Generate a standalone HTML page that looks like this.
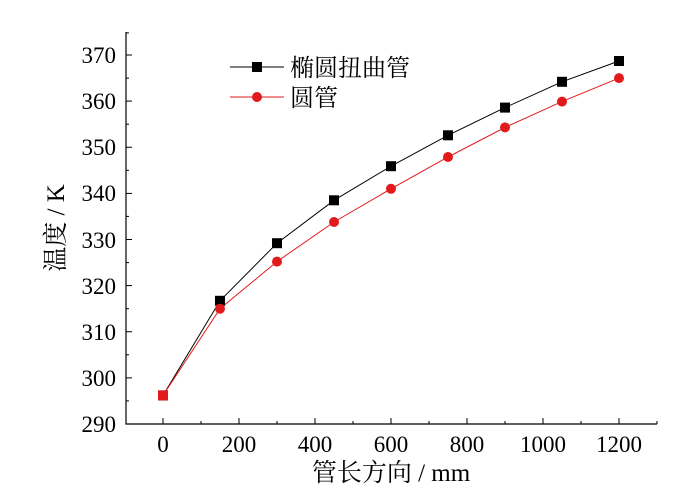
<!DOCTYPE html>
<html><head><meta charset="utf-8"><style>body{margin:0;background:#fff}</style></head><body>
<svg width="676" height="498" xmlns="http://www.w3.org/2000/svg" font-family="'Liberation Serif','Noto Serif CJK SC',serif">
<g stroke="#000" stroke-width="1.2" fill="none">
<line x1="126" y1="32" x2="126" y2="424.5"/>
<line x1="125.5" y1="424" x2="657" y2="424"/>
</g>
<g stroke="#000" stroke-width="1">
<line x1="126" y1="377.9" x2="132" y2="377.9"/><line x1="126" y1="331.75" x2="132" y2="331.75"/>
<line x1="126" y1="285.6" x2="132" y2="285.6"/><line x1="126" y1="239.5" x2="132" y2="239.5"/>
<line x1="126" y1="193.4" x2="132" y2="193.4"/><line x1="126" y1="147.25" x2="132" y2="147.25"/>
<line x1="126" y1="101.1" x2="132" y2="101.1"/><line x1="126" y1="55" x2="132" y2="55"/>
<line x1="126" y1="400.9" x2="129" y2="400.9"/><line x1="126" y1="354.8" x2="129" y2="354.8"/>
<line x1="126" y1="308.7" x2="129" y2="308.7"/><line x1="126" y1="262.6" x2="129" y2="262.6"/>
<line x1="126" y1="216.4" x2="129" y2="216.4"/><line x1="126" y1="170.3" x2="129" y2="170.3"/>
<line x1="126" y1="124.2" x2="129" y2="124.2"/><line x1="126" y1="78.1" x2="129" y2="78.1"/>
<line x1="126" y1="32.9" x2="129" y2="32.9"/>
<line x1="163" y1="424" x2="163" y2="418"/><line x1="239" y1="424" x2="239" y2="418"/>
<line x1="315" y1="424" x2="315" y2="418"/><line x1="391" y1="424" x2="391" y2="418"/>
<line x1="467" y1="424" x2="467" y2="418"/><line x1="543" y1="424" x2="543" y2="418"/>
<line x1="619" y1="424" x2="619" y2="418"/>
<line x1="201" y1="424" x2="201" y2="421"/><line x1="277" y1="424" x2="277" y2="421"/>
<line x1="353" y1="424" x2="353" y2="421"/><line x1="429" y1="424" x2="429" y2="421"/>
<line x1="505" y1="424" x2="505" y2="421"/><line x1="581" y1="424" x2="581" y2="421"/>
<line x1="657" y1="424" x2="657" y2="421"/>
</g>
<g font-size="23" fill="#000" text-anchor="end">
<text x="116" y="432">290</text><text x="116" y="386">300</text><text x="116" y="340">310</text>
<text x="116" y="294">320</text><text x="116" y="248">330</text><text x="116" y="201">340</text>
<text x="116" y="155">350</text><text x="116" y="109">360</text><text x="116" y="63">370</text>
</g>
<g font-size="23" fill="#000" text-anchor="middle">
<text x="163" y="452">0</text><text x="239" y="452">200</text><text x="315" y="452">400</text>
<text x="391" y="452">600</text><text x="467" y="452">800</text><text x="543" y="452">1000</text>
<text x="619" y="452">1200</text>
</g>
<text x="391" y="481" font-size="25" text-anchor="middle">管长方向 / mm</text>
<text transform="translate(64,228) rotate(-90)" font-size="25" text-anchor="middle">温度 / K</text>
<polyline fill="none" stroke="#000" stroke-width="1" points="163,395.4 220,300.8 277,243.2 334,200.3 391,166.2 448,135.3 505,107.6 562,81.8 619,61"/>
<polyline fill="none" stroke="#e31a1c" stroke-width="1" points="163,395.4 220,308.7 277,261.6 334,222 391,188.8 448,157 505,127.4 562,101.6 619,78.1"/>
<g fill="#000">
<rect x="158" y="390.4" width="10" height="10"/><rect x="215" y="295.8" width="10" height="10"/>
<rect x="272" y="238.2" width="10" height="10"/><rect x="329" y="195.3" width="10" height="10"/>
<rect x="386" y="161.2" width="10" height="10"/><rect x="443" y="130.3" width="10" height="10"/>
<rect x="500" y="102.6" width="10" height="10"/><rect x="557" y="76.8" width="10" height="10"/>
<rect x="614" y="56" width="10" height="10"/>
</g>
<g fill="#e31a1c">
<rect x="158" y="390.4" width="10" height="10"/>
<circle cx="220" cy="308.7" r="5"/><circle cx="277" cy="261.6" r="5"/><circle cx="334" cy="222" r="5"/>
<circle cx="391" cy="188.8" r="5"/><circle cx="448" cy="157" r="5"/><circle cx="505" cy="127.4" r="5"/>
<circle cx="562" cy="101.6" r="5"/><circle cx="619" cy="78.1" r="5"/>
</g>
<line x1="230" y1="67" x2="284" y2="67" stroke="#000" stroke-width="1"/>
<rect x="252" y="62" width="10" height="10" fill="#000"/>
<text x="290" y="76" font-size="24">椭圆扭曲管</text>
<line x1="230" y1="97" x2="284" y2="97" stroke="#e31a1c" stroke-width="1"/>
<circle cx="257" cy="97" r="5" fill="#e31a1c"/>
<text x="290" y="106" font-size="24">圆管</text>
</svg></body></html>
